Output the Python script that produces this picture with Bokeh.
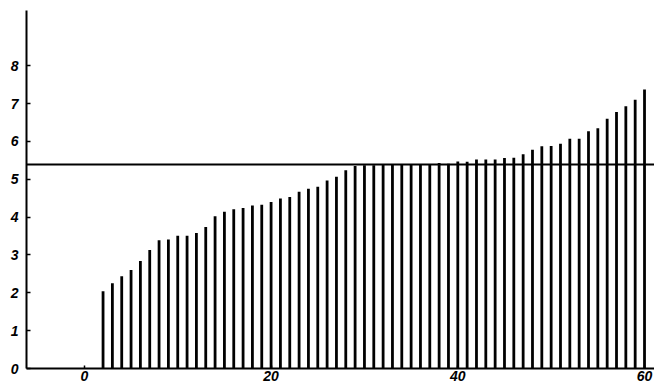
from bokeh.plotting import figure
from bokeh.models import Range1d, FixedTicker, Span, ColumnDataSource
from bokeh.embed import file_html
from bokeh.resources import INLINE

# data
x_vals = list(range(2, 61))
heights = [2.04, 2.25, 2.44, 2.60, 2.84, 3.13, 3.39, 3.41, 3.51, 3.51,
           3.58, 3.74, 4.02, 4.14, 4.21, 4.24, 4.31, 4.33, 4.40, 4.49,
           4.53, 4.67, 4.75, 4.80, 4.97, 5.07, 5.24, 5.35, 5.37, 5.37,
           5.38, 5.38, 5.38, 5.38, 5.39, 5.40, 5.43, 5.41, 5.47, 5.46,
           5.52, 5.52, 5.52, 5.56, 5.57, 5.66, 5.78, 5.87, 5.88, 5.94,
           6.07, 6.07, 6.27, 6.35, 6.60, 6.78, 6.93, 7.10, 7.37]
reference_level = 5.39
x_ticks = [0, 20, 40, 60]
y_ticks = [0, 1, 2, 3, 4, 5, 6, 7, 8]

src = ColumnDataSource(dict(x=x_vals, y0=[0] * len(x_vals), y1=heights))

p = figure(width=654, height=383, output_backend="svg", toolbar_location=None,
           x_range=Range1d(-6.2, 61.07), y_range=Range1d(0, 9.46),
           min_border_left=26, min_border_right=0, min_border_top=10,
           min_border_bottom=0)
p.outline_line_color = None
p.xgrid.visible = False
p.ygrid.visible = False
p.background_fill_color = "white"
p.border_fill_color = "white"

p.segment(x0="x", y0="y0", x1="x", y1="y1", source=src,
          line_color="black", line_width=2.8)

p.add_layout(Span(location=reference_level, dimension="width",
                  line_color="black", line_width=2))

for ax in (p.xaxis[0], p.yaxis[0]):
    ax.axis_line_color = "black"
    ax.axis_line_width = 2
    ax.major_tick_line_color = "black"
    ax.major_tick_line_width = 1.5
    ax.minor_tick_line_color = None
    ax.major_tick_out = 0
    ax.major_label_text_font = "Liberation Sans"
    ax.major_label_text_font_style = "bold italic"
    ax.major_label_text_font_size = "14px"
    ax.major_label_text_color = "black"

p.xaxis[0].ticker = FixedTicker(ticks=x_ticks)
p.yaxis[0].ticker = FixedTicker(ticks=y_ticks)
p.xaxis[0].major_tick_in = 3
p.yaxis[0].major_tick_in = 4
p.xaxis[0].major_label_standoff = 2
p.yaxis[0].major_label_standoff = 8

open("out.html", "w").write(file_html(p, INLINE))
